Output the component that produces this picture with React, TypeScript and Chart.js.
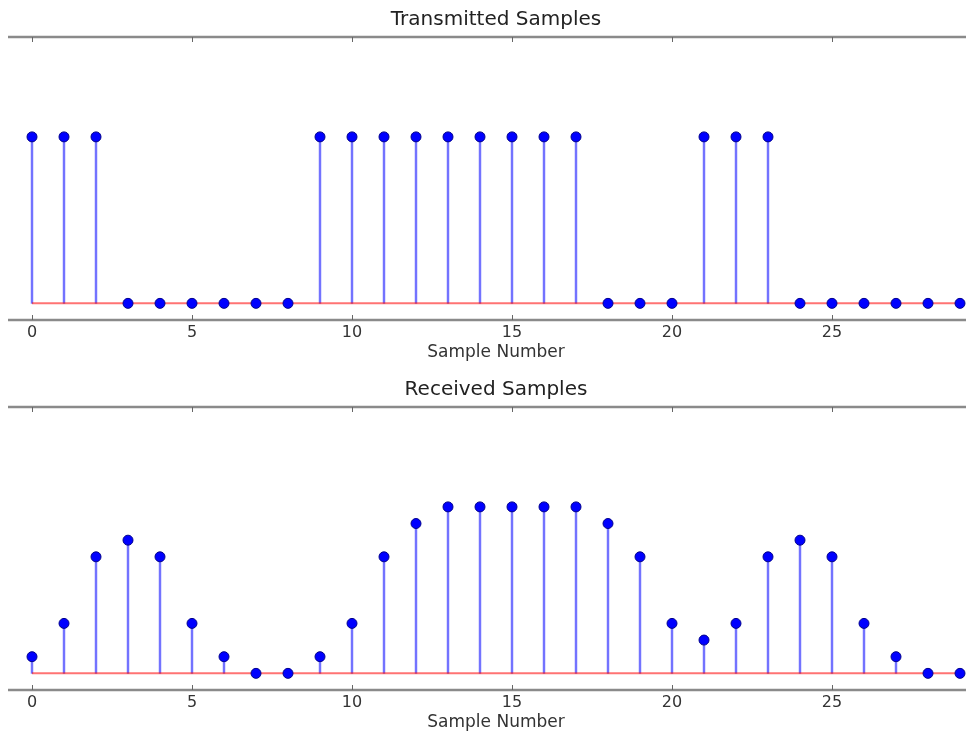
import React, { useEffect, useRef } from "react";
import { Chart, registerables } from "chart.js";

Chart.register(...registerables);

const SAMPLE_INDEX = Array.from({ length: 30 }, (_, i) => i);
const TRANSMITTED = [1, 1, 1, 0, 0, 0, 0, 0, 0, 1, 1, 1, 1, 1, 1, 1, 1, 1, 0, 0, 0, 1, 1, 1, 0, 0, 0, 0, 0, 0];
const RECEIVED = [0.1, 0.3, 0.7, 0.8, 0.7, 0.3, 0.1, 0, 0, 0.1, 0.3, 0.7, 0.9, 1.0, 1.0, 1.0, 1.0, 1.0, 0.9, 0.7, 0.3, 0.2, 0.3, 0.7, 0.8, 0.7, 0.3, 0.1, 0, 0];
const X_TICKS = [0, 5, 10, 15, 20, 25];
const X_MIN = -0.75;
const X_MAX = 29.75;
const Y_MIN = -0.1;
const Y_MAX = 1.6;
const X_LABEL = "Sample Number";
const TOP_TITLE = "Transmitted Samples";
const BOTTOM_TITLE = "Received Samples";

const FONT = "'DejaVu Sans', sans-serif";

function makeFramePlugin(title: string) {
  return {
    id: "frame",
    afterDatasetsDraw(chart: any) {
      const { ctx, chartArea } = chart;
      const xs = chart.scales.x;
      const { left, right, top, bottom } = chartArea;
      ctx.save();
      // spines
      ctx.strokeStyle = "#8a8a8a";
      ctx.lineWidth = 2.5;
      ctx.beginPath();
      ctx.moveTo(left, top);
      ctx.lineTo(right, top);
      ctx.moveTo(left, bottom);
      ctx.lineTo(right, bottom);
      ctx.stroke();
      // inward ticks
      ctx.strokeStyle = "#666";
      ctx.lineWidth = 1;
      ctx.beginPath();
      for (const v of X_TICKS) {
        const px = Math.round(xs.getPixelForValue(v)) + 0.5;
        ctx.moveTo(px, top);
        ctx.lineTo(px, top + 5);
        ctx.moveTo(px, bottom);
        ctx.lineTo(px, bottom - 5);
      }
      ctx.stroke();
      // title and x label
      const cx = (left + right) / 2;
      ctx.fillStyle = "#222";
      ctx.textAlign = "center";
      ctx.textBaseline = "alphabetic";
      ctx.font = `20px ${FONT}`;
      ctx.fillText(title, cx, top - 12);
      ctx.font = `17px ${FONT}`;
      ctx.fillStyle = "#333";
      ctx.fillText(X_LABEL, cx, bottom + 37);
      ctx.restore();
    },
  };
}

function buildConfig(values: number[], title: string, axisHeight: number): any {
  const points = SAMPLE_INDEX.map((x, i) => ({ x, y: values[i] }));
  return {
    type: "bar",
    data: {
      datasets: [
        {
          type: "line",
          data: points,
          showLine: false,
          pointRadius: 5,
          pointBackgroundColor: "#0000ff",
          pointBorderColor: "#00008b",
          pointBorderWidth: 1,
          order: 0,
          clip: false,
        },
        {
          type: "line",
          data: [
            { x: SAMPLE_INDEX[0], y: 0 },
            { x: SAMPLE_INDEX[SAMPLE_INDEX.length - 1], y: 0 },
          ],
          borderColor: "rgba(255,0,0,0.55)",
          borderWidth: 2,
          pointRadius: 0,
          order: 1,
        },
        {
          type: "bar",
          data: points,
          backgroundColor: "rgba(0,0,255,0.55)",
          borderWidth: 0,
          barThickness: 1.8,
          order: 2,
        },
      ],
    },
    options: {
      animation: false,
      responsive: false,
      events: [],
      layout: { padding: { top: 37, left: 8, right: 8, bottom: 0 } },
      plugins: {
        legend: { display: false },
        title: { display: false },
        tooltip: { enabled: false },
      },
      scales: {
        x: {
          type: "linear",
          min: X_MIN,
          max: X_MAX,
          offset: false,
          grid: { display: false, drawTicks: false },
          border: { display: false },
          afterBuildTicks: (scale: any) => {
            scale.ticks = X_TICKS.map((v) => ({ value: v }));
          },
          afterFit: (scale: any) => {
            scale.height = axisHeight;
          },
          ticks: {
            autoSkip: false,
            maxRotation: 0,
            padding: 3,
            color: "#333",
            font: { family: FONT, size: 16 },
          },
        },
        y: {
          type: "linear",
          min: Y_MIN,
          max: Y_MAX,
          display: false,
        },
      },
    },
    plugins: [makeFramePlugin(title)],
  };
}

function StemChart({ values, title, height, axisHeight }: { values: number[]; title: string; height: number; axisHeight: number }) {
  const ref = useRef<HTMLCanvasElement | null>(null);
  useEffect(() => {
    if (!ref.current) return;
    const chart = new Chart(ref.current, buildConfig(values, title, axisHeight));
    return () => chart.destroy();
  }, [values, title, height, axisHeight]);
  return (
    <canvas
      ref={ref}
      width={992}
      height={height}
      style={{ display: "block", width: 992, height }}
    />
  );
}

export default function App() {
  return (
    <div
      style={{
        position: "absolute",
        left: 0,
        top: 0,
        width: 966,
        height: 733,
        overflow: "hidden",
        background: "#fff",
      }}
    >
      <div style={{ width: 992 }}>
        <StemChart values={TRANSMITTED} title={TOP_TITLE} height={370} axisHeight={50} />
        <StemChart values={RECEIVED} title={BOTTOM_TITLE} height={363} axisHeight={43} />
      </div>
    </div>
  );
}
